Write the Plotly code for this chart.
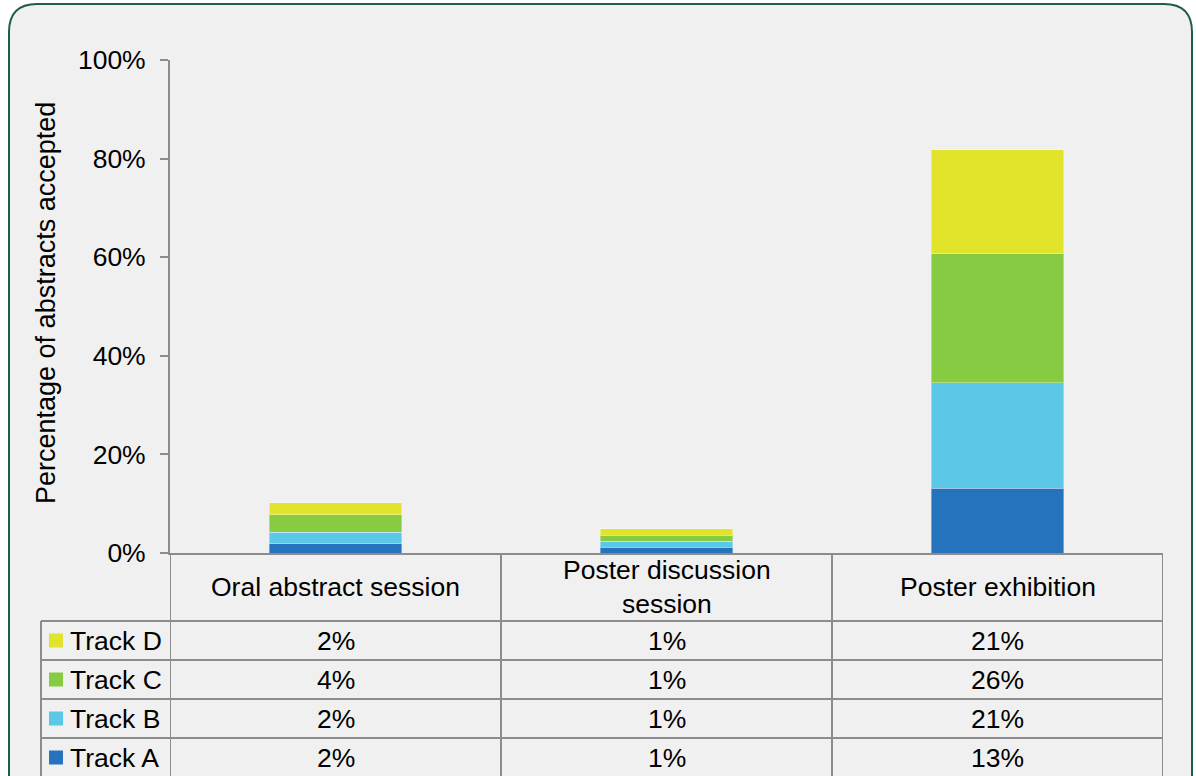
import plotly.graph_objects as go

# ---- data ----
categories = ["Oral abstract session", "Poster discussion session", "Poster exhibition"]
category_labels = ["Oral abstract session", "Poster discussion<br>session", "Poster exhibition"]
track_a = [1.9, 1.2, 13.1]
track_b = [2.3, 1.2, 21.4]
track_c = [3.6, 1.2, 26.2]
track_d = [2.4, 1.35, 21.1]
series_names = ["Track A", "Track B", "Track C", "Track D"]
series_values = [track_a, track_b, track_c, track_d]
series_colors = ["#2573bd", "#5bc8e8", "#86cb41", "#e1e42a"]
y_ticks = [0, 20, 40, 60, 80, 100]

W, H = 1196, 776
FONT = "Liberation Sans, Arial, sans-serif"
FS = 26.5
GRID = "#8c8c8c"


def px(x):
    return x / W


def py(y):
    return 1 - y / H


xpos = list(range(len(categories)))

fig = go.Figure()
for name, vals, col in zip(series_names, series_values, series_colors):
    fig.add_trace(go.Bar(
        x=xpos, y=vals, name=name, width=0.4,
        marker=dict(color=col, line=dict(color="rgba(255,255,255,0.35)", width=1)),
        showlegend=False,
    ))

shapes = []
# rounded background panel
x0, y0, x1, y1, r = 9, 4, 1192, 800, 28
path = (f"M {px(x0)},{py(y0 + r)} Q {px(x0)},{py(y0)} {px(x0 + r)},{py(y0)} "
        f"L {px(x1 - r)},{py(y0)} Q {px(x1)},{py(y0)} {px(x1)},{py(y0 + r)} "
        f"L {px(x1)},{py(y1)} L {px(x0)},{py(y1)} Z")
shapes.append(dict(type="path", xref="paper", yref="paper", path=path,
                   fillcolor="#f0f0f0", line=dict(color="#1d5e46", width=2), layer="below"))

# table vertical lines at category boundaries
for b in [-0.5, 0.5, 1.5, 2.5]:
    shapes.append(dict(type="line", xref="x", yref="paper", x0=b, x1=b,
                       y0=py(553), y1=py(780), line=dict(color=GRID, width=2)))
# left column line
shapes.append(dict(type="line", xref="paper", yref="paper", x0=px(41), x1=px(41),
                   y0=py(621), y1=py(780), line=dict(color=GRID, width=2)))
# table horizontal lines
row_tops = [621, 660, 699, 738]
for yy in row_tops:
    shapes.append(dict(type="line", xref="paper", yref="paper", x0=px(41), x1=px(1163),
                       y0=py(yy), y1=py(yy), line=dict(color=GRID, width=2)))

annotations = []
# header labels
for i, lab in enumerate(category_labels):
    annotations.append(dict(x=i, xref="x", y=py(587), yref="paper", text=lab,
                            showarrow=False, xanchor="center", yanchor="middle",
                            font=dict(family=FONT, size=FS, color="#000")))

# table rows (Track D on top)
row_centers = [640.5, 679.5, 718.5, 757.5]
order = [3, 2, 1, 0]
for rc, si in zip(row_centers, order):
    shapes.append(dict(type="rect", xref="paper", yref="paper",
                       x0=px(49), x1=px(63), y0=py(rc - 7), y1=py(rc + 7),
                       fillcolor=series_colors[si], line=dict(width=0)))
    annotations.append(dict(x=px(68), xref="paper", y=py(rc), yref="paper",
                            text=series_names[si], showarrow=False,
                            xanchor="left", yanchor="middle",
                            font=dict(family=FONT, size=FS, color="#000")))
    for i, v in enumerate(series_values[si]):
        annotations.append(dict(x=i, xref="x", y=py(rc), yref="paper",
                                text=f"{round(v)}%", showarrow=False,
                                xanchor="center", yanchor="middle",
                                font=dict(family=FONT, size=FS, color="#000")))

# y-axis title
annotations.append(dict(x=px(46), xref="paper", y=py(303), yref="paper",
                        text="Percentage of abstracts accepted", textangle=-90,
                        showarrow=False, xanchor="center", yanchor="middle",
                        font=dict(family=FONT, size=27, color="#000")))

fig.update_layout(
    width=W, height=H,
    margin=dict(l=0, r=0, t=0, b=0, autoexpand=False),
    paper_bgcolor="white",
    plot_bgcolor="rgba(0,0,0,0)",
    barmode="stack",
    bargap=0.6,
    shapes=shapes,
    annotations=annotations,
    font=dict(family=FONT, size=FS, color="#000"),
    xaxis=dict(domain=[px(170), px(1163)], range=[-0.5, 2.5], showticklabels=False,
               ticks="", showline=True, linecolor=GRID, linewidth=2, automargin=False,
               showgrid=False, zeroline=False, fixedrange=True),
    yaxis=dict(domain=[py(553), py(60)], range=[0, 100], tickvals=y_ticks,
               ticktext=[f"{t}%" for t in y_ticks], ticks="outside", ticklen=8,
               tickcolor=GRID, tickwidth=2, showline=True, linecolor=GRID, linewidth=2,
               showgrid=False, zeroline=False, ticklabelstandoff=9, automargin=False,
               tickfont=dict(family=FONT, size=FS, color="#000"), fixedrange=True),
)

fig.write_html(
    "out.html",
    config={"displayModeBar": False},
    post_script="document.body.style.margin='0';document.body.style.overflow='hidden';",
)
